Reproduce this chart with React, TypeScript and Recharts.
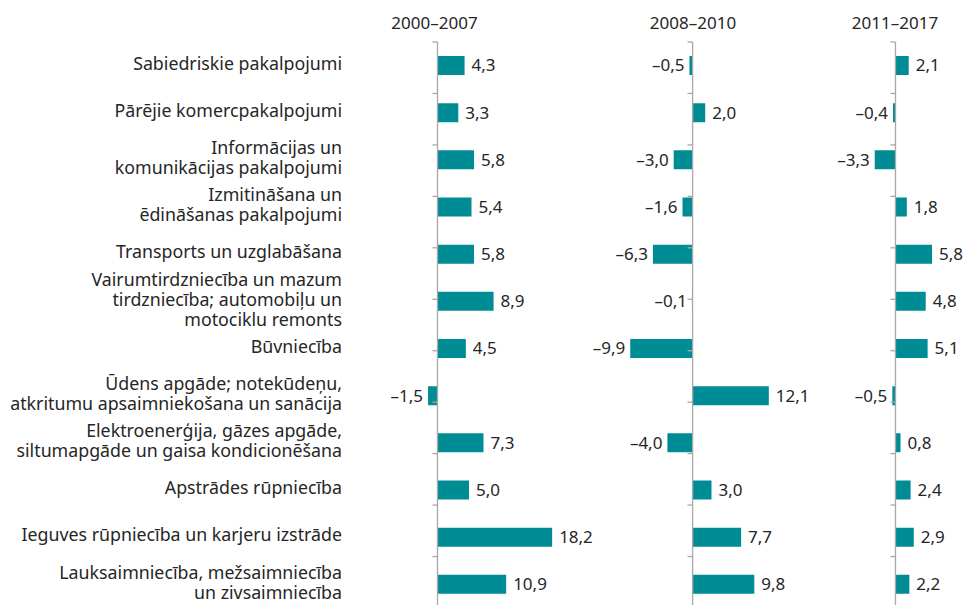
import { BarChart, Bar, XAxis, YAxis, ReferenceLine, LabelList } from 'recharts';

// Sectors, top to bottom (line breaks as in the original labels)
const categories = [
  'Sabiedriskie pakalpojumi',
  'Pārējie komercpakalpojumi',
  'Informācijas un\nkomunikācijas pakalpojumi',
  'Izmitināšana un\nēdināšanas pakalpojumi',
  'Transports un uzglabāšana',
  'Vairumtirdzniecība un mazum\ntirdzniecība; automobiļu un\nmotociklu remonts',
  'Būvniecība',
  'Ūdens apgāde; notekūdeņu,\natkritumu apsaimniekošana un sanācija',
  'Elektroenerģija, gāzes apgāde,\nsiltumapgāde un gaisa kondicionēšana',
  'Apstrādes rūpniecība',
  'Ieguves rūpniecība un karjeru izstrāde',
  'Lauksaimniecība, mežsaimniecība\nun zivsaimniecība',
];

const growth2000to2007 = [4.3, 3.3, 5.8, 5.4, 5.8, 8.9, 4.5, -1.5, 7.3, 5.0, 18.2, 10.9];
const growth2008to2010 = [-0.5, 2.0, -3.0, -1.6, -6.3, -0.1, -9.9, 12.1, -4.0, 3.0, 7.7, 9.8];
const growth2011to2017 = [2.1, -0.4, -3.3, 1.8, 5.8, 4.8, 5.1, -0.5, 0.8, 2.4, 2.9, 2.2];

const periodTitles = ['2000–2007', '2008–2010', '2011–2017'];

const TEAL = '#008C95';
const AXIS = '#A8A8A8';
const TEXT = '#262626';
const FONT = '"Noto Sans", "Open Sans", sans-serif';
const FONT_SIZE = 17;
const CAT_FONT_SIZE = 17.8;

const PX = 6.3; // pixels per percentage point, same in all panels
const TOP = 42;
const BOTTOM = 608;
const HEIGHT = 620;
const LABEL_RIGHT = 342;
const TICK_LEN = 0.8; // in value units
const PAD = 60; // room for value labels outside each plot

const data = categories.map((name, i) => ({
  name,
  p1: growth2000to2007[i],
  p2: growth2008to2010[i],
  p3: growth2011to2017[i],
}));

const bandEdges = categories.map((_, i) => i).concat(categories.length);

const panels = [
  { key: 'p1', title: periodTitles[0], zero: 437.5, min: -3, max: 22 },
  { key: 'p2', title: periodTitles[1], zero: 693, min: -12, max: 16 },
  { key: 'p3', title: periodTitles[2], zero: 895, min: -5, max: 9 },
];

const fmt = (v: number) => (v < 0 ? '\u2013' : '') + Math.abs(v).toFixed(1).replace('.', ',');

const CategoryTick = ({ y, payload }: any) => {
  const lines = String(payload.value).split('\n');
  const lh = 20;
  const start = y - 2 - ((lines.length - 1) * lh) / 2;
  return (
    <g>
      {lines.map((l, i) => (
        <text
          key={i}
          x={LABEL_RIGHT}
          y={start + i * lh}
          dy="0.35em"
          textAnchor="end"
          fill={TEXT}
          fontSize={CAT_FONT_SIZE}
          fontFamily={FONT}
        >
          {l}
        </text>
      ))}
    </g>
  );
};

const ValueLabel = (props: any) => {
  const vb = props.viewBox ?? props;
  const { x, y, width, height } = vb;
  const value = Number(props.value);
  const l = Math.min(x, x + width);
  const r = Math.max(x, x + width);
  const neg = value < 0;
  return (
    <text
      x={neg ? l - 5 : r + 7}
      y={y + height / 2}
      dy="0.35em"
      textAnchor={neg ? 'end' : 'start'}
      fill={TEXT}
      fontSize={FONT_SIZE}
      fontFamily={FONT}
    >
      {fmt(value)}
    </text>
  );
};

const Panel = ({ p, withLabels }: { p: (typeof panels)[number]; withLabels: boolean }) => {
  const left = p.zero + p.min * PX;
  const right = p.zero + p.max * PX;
  const chartLeft = withLabels ? 0 : left - PAD;
  return (
    <div style={{ position: 'absolute', left: chartLeft, top: 0 }}>
      <BarChart
        layout="vertical"
        width={right + PAD - chartLeft}
        height={HEIGHT}
        data={data}
        margin={{ top: TOP, bottom: HEIGHT - BOTTOM, left: withLabels ? 0 : PAD, right: PAD }}
        barSize={19}
        style={{ overflow: 'visible' }}
      >
        <XAxis type="number" domain={[p.min, p.max]} allowDataOverflow hide />
        <YAxis
          type="category"
          dataKey="name"
          width={withLabels ? left : 0}
          hide={!withLabels}
          axisLine={false}
          tickLine={false}
          tick={<CategoryTick />}
          interval={0}
        />
        <YAxis yAxisId="edges" type="number" domain={[0, categories.length]} hide />
        <Bar dataKey={p.key} fill={TEAL} isAnimationActive={false}>
          <LabelList dataKey={p.key} content={<ValueLabel />} />
        </Bar>
        <ReferenceLine x={0} stroke={AXIS} strokeWidth={1.3} />
        {bandEdges.map((e) => (
          <ReferenceLine
            key={e}
            yAxisId="edges"
            segment={[
              { x: -TICK_LEN, y: e },
              { x: 0, y: e },
            ]}
            stroke={AXIS}
            strokeWidth={1.3}
          />
        ))}
      </BarChart>
    </div>
  );
};

export default function App() {
  return (
    <div style={{ position: 'absolute', left: 0, top: 0, width: 964, height: 605, overflow: 'hidden', background: '#fff' }}>
      {panels.map((p) => (
        <div
          key={p.title}
          style={{
            position: 'absolute',
            left: p.zero - 60 - (p.key === 'p1' ? 3 : 0),
            top: 13,
            width: 120,
            textAlign: 'center',
            fontFamily: FONT,
            fontSize: FONT_SIZE,
            lineHeight: '20px',
            color: TEXT,
          }}
        >
          {p.title}
        </div>
      ))}
      {panels.map((p, i) => (
        <Panel key={p.key} p={p} withLabels={i === 0} />
      ))}
    </div>
  );
}
